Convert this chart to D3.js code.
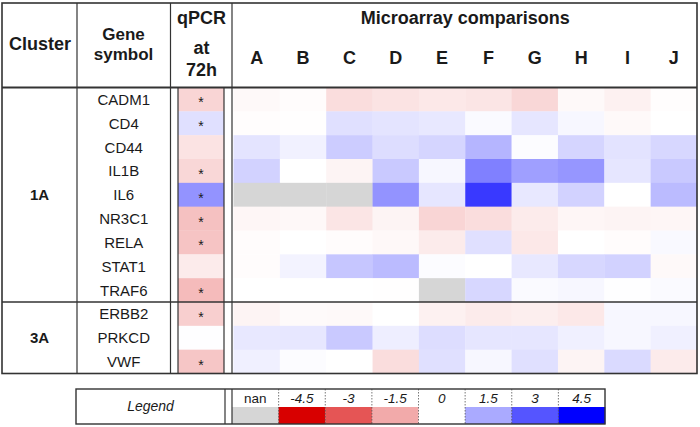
<!DOCTYPE html>
<html>
<head>
<meta charset="utf-8">
<script src="https://cdn.jsdelivr.net/npm/d3@7"></script>
<style>
  html, body { margin: 0; padding: 0; background: #fff; }
  svg { display: block; font-family: "Liberation Sans", Arial, sans-serif; }
</style>
</head>
<body>
<svg id="chart" width="700" height="427"></svg>
<script>
// ---------- data ----------
const genes = ["CADM1","CD4","CD44","IL1B","IL6","NR3C1","RELA","STAT1","TRAF6","ERBB2","PRKCD","VWF"];
const clusterNames = ["1A","3A"];
const clusterSizes = [9, 3];
const comparisons = ["A","B","C","D","E","F","G","H","I","J"];
const qpcrValues = [-0.75, 0.55, -0.5, -0.7, 1.9, -1.1, -1.05, -0.35, -1.2, -0.85, 0.02, -1.0];
const qpcrSignificant = [true, true, false, true, true, true, true, false, true, true, false, true];
// microarray log fold changes, one row per gene, columns A..J (null = nan)
const microCADM1 = [-0.1, -0.05, -0.6, -0.5, -0.4, -0.45, -0.7, -0.1, -0.25, -0.03];
const microCD4   = [-0.03, -0.02, 0.55, 0.47, 0.4, 0.08, 0.45, 0.15, -0.1, 0];
const microCD44  = [0.47, 0.25, 0.9, 0.6, 0.75, 1.3, 0.05, 0.75, 0.5, 0.7];
const microIL1B  = [0.8, 0, -0.2, 0.95, 0.15, 2.25, 1.7, 1.85, 0.45, 0.95];
const microIL6   = [null, null, null, 1.9, 0.45, 3.5, 0.4, 0.8, 0, 1.2];
const microNR3C1 = [-0.15, -0.12, -0.45, -0.2, -0.75, -0.6, -0.35, -0.15, -0.2, -0.15];
const microRELA  = [-0.05, 0, -0.05, -0.12, -0.35, 0.55, -0.4, 0, -0.05, 0.1];
const microSTAT1 = [-0.05, 0.22, 1.0, 1.2, 0.05, 0, 0.4, 0.7, 0.8, -0.1];
const microTRAF6 = [0, 0, 0, -0.02, null, 0.7, 0.08, 0.15, 0.02, 0.08];
const microERBB2 = [-0.2, -0.08, -0.1, 0, -0.25, -0.35, -0.3, -0.4, 0.15, 0.15];
const microPRKCD = [0.4, 0.42, 0.95, 0.3, 0.6, 0.45, 0.45, 0.27, 0.15, 0.27];
const microVWF   = [0.27, 0.05, 0, -0.6, 0.55, 0.15, 0.55, -0.2, 0.65, -0.35];
const microValues = [microCADM1, microCD4, microCD44, microIL1B, microIL6, microNR3C1,
                     microRELA, microSTAT1, microTRAF6, microERBB2, microPRKCD, microVWF];
const legendLabels = ["nan","-4.5","-3","-1.5","0","1.5","3","4.5"];
const legendValues = [null, -4.5, -3, -1.5, 0, 1.5, 3, 4.5];

// ---------- layout ----------
const svg = d3.select("#chart");
const L = 2, R = 697, T = 3, HB = 87.5, B = 373.5;
const xCluster = [L, 77], xGene = [77, 170.5], xQ = [170.5, 232], xQcell = [178, 224];
const lineColor = "#333";
const textColor = "#1a1a1a";

const color = d3.scaleLinear().domain([-4.5, 0, 4.5])
  .range(["#d80000", "#ffffff", "#0000ff"]).clamp(true);
const nanColor = "#d6d6d6";
const fill = v => (v === null || v === undefined) ? nanColor : color(v);

const x = d3.scaleBand().domain(comparisons).range([233.5, R]);
const y = d3.scaleBand().domain(genes).range([HB, B]);

// microarray cells
const cells = [];
genes.forEach((g, i) => comparisons.forEach((c, j) => cells.push({g, c, v: microValues[i][j]})));
svg.append("g").selectAll("rect").data(cells).join("rect")
  .attr("x", d => x(d.c)).attr("y", d => y(d.g))
  .attr("width", x.bandwidth() + 0.3).attr("height", y.bandwidth() + 0.3)
  .attr("fill", d => fill(d.v));

// qPCR cells
svg.append("g").selectAll("rect").data(genes).join("rect")
  .attr("x", xQcell[0]).attr("y", d => y(d))
  .attr("width", xQcell[1] - xQcell[0]).attr("height", y.bandwidth() + 0.3)
  .attr("fill", (d, i) => fill(qpcrValues[i]));
svg.append("g").selectAll("text").data(genes.filter((d, i) => qpcrSignificant[i])).join("text")
  .attr("x", (xQcell[0] + xQcell[1]) / 2).attr("y", d => y(d) + y.bandwidth() / 2 + 8)
  .attr("text-anchor", "middle").attr("font-size", 14).attr("fill", textColor).text("*");

// gene labels
svg.append("g").selectAll("text").data(genes).join("text")
  .attr("x", (xGene[0] + xGene[1]) / 2).attr("y", d => y(d) + y.bandwidth() / 2 + 5.5)
  .attr("text-anchor", "middle").attr("font-size", 15).attr("fill", textColor).text(d => d);

// cluster labels and separators
let start = 0;
const clusterBounds = clusterNames.map((n, k) => {
  const g0 = genes[start], g1 = genes[start + clusterSizes[k] - 1];
  const b = {name: n, y0: y(g0), y1: y(g1) + y.bandwidth()};
  start += clusterSizes[k];
  return b;
});
svg.append("g").selectAll("text").data(clusterBounds).join("text")
  .attr("x", (xCluster[0] + xCluster[1]) / 2).attr("y", d => (d.y0 + d.y1) / 2 + 5.5)
  .attr("text-anchor", "middle").attr("font-size", 15).attr("font-weight", "bold")
  .attr("fill", textColor).text(d => d.name);

// headers
const hdr = svg.append("g").attr("fill", textColor).attr("font-weight", "bold")
  .attr("font-size", 18).attr("text-anchor", "middle");
hdr.append("text").attr("x", 40).attr("y", 50).text("Cluster");
hdr.append("text").attr("x", 123.5).attr("y", 40).attr("font-size", 17).text("Gene");
hdr.append("text").attr("x", 123.5).attr("y", 60).attr("font-size", 17).text("symbol");
hdr.append("text").attr("x", 201.5).attr("y", 24).text("qPCR");
hdr.append("text").attr("x", 201.5).attr("y", 54).text("at");
hdr.append("text").attr("x", 201.5).attr("y", 76).text("72h");
hdr.append("text").attr("x", (233.5 + R) / 2).attr("y", 24).text("Microarray comparisons");
hdr.selectAll(".col").data(comparisons).join("text").attr("class", "col")
  .attr("x", d => x(d) + x.bandwidth() / 2).attr("y", 64).text(d => d);

// grid lines
const lines = svg.append("g").attr("stroke", lineColor).attr("fill", "none");
lines.append("rect").attr("x", L).attr("y", T).attr("width", R - L).attr("height", B - T).attr("stroke-width", 1.6);
lines.append("line").attr("x1", L).attr("x2", R).attr("y1", HB).attr("y2", HB).attr("stroke-width", 1.8);
clusterBounds.slice(0, -1).forEach(b => {
  lines.append("line").attr("x1", L).attr("x2", R).attr("y1", b.y1).attr("y2", b.y1).attr("stroke-width", 1.6);
});
[[xCluster[1], T], [xGene[1], T], [xQ[1], T], [xQcell[0], HB], [xQcell[1], HB]].forEach(([xx, y0]) => {
  lines.append("line").attr("x1", xx).attr("x2", xx).attr("y1", y0).attr("y2", B).attr("stroke-width", 1.2);
});

// ---------- legend ----------
const LL = 76, LR = 605, LT = 389, LM = 407, LB = 424;
const lx = d3.scaleBand().domain(legendLabels).range([232, LR]);
const lg = svg.append("g");
lg.selectAll("rect").data(legendLabels).join("rect")
  .attr("x", d => lx(d)).attr("y", LM).attr("width", lx.bandwidth() + 0.3).attr("height", LB - LM)
  .attr("fill", (d, i) => fill(legendValues[i]));
lg.selectAll("text.lab").data(legendLabels).join("text").attr("class", "lab")
  .attr("x", d => lx(d) + lx.bandwidth() / 2).attr("y", 403)
  .attr("text-anchor", "middle").attr("font-size", 13.5).attr("fill", textColor)
  .attr("font-style", d => d === "nan" ? "normal" : "italic").text(d => d);
lg.append("text").attr("x", (LL + 225) / 2).attr("y", 411).attr("text-anchor", "middle")
  .attr("font-size", 14).attr("font-style", "italic").attr("fill", textColor).text("Legend");
lg.selectAll("line.sep").data(legendLabels.slice(1)).join("line").attr("class", "sep")
  .attr("x1", d => lx(d)).attr("x2", d => lx(d)).attr("y1", LT).attr("y2", LB)
  .attr("stroke", "#555").attr("stroke-width", 0.8).attr("stroke-dasharray", "1.5,1.5");
lg.append("rect").attr("x", LL).attr("y", LT).attr("width", LR - LL).attr("height", LB - LT)
  .attr("fill", "none").attr("stroke", lineColor).attr("stroke-width", 1.4);
[225, 232].forEach(xx => lg.append("line").attr("x1", xx).attr("x2", xx).attr("y1", LT).attr("y2", LB)
  .attr("stroke", lineColor).attr("stroke-width", 1.2));
</script>
</body>
</html>
